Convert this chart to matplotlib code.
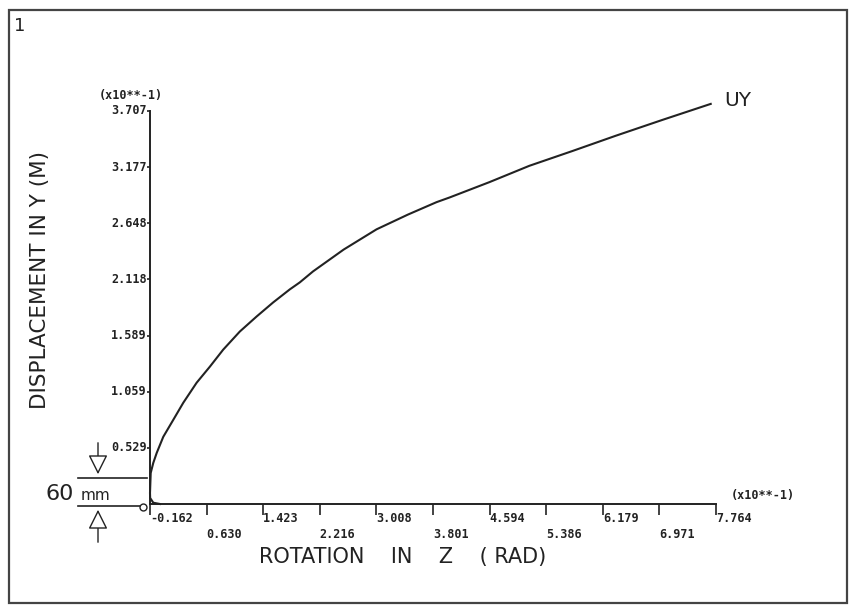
"Displacement vs rotation (ANSYS style plot)"
import matplotlib
matplotlib.use("Agg")
from matplotlib import pyplot as plt
from matplotlib.patches import Rectangle, FancyArrowPatch
from matplotlib.lines import Line2D

# data (units of 10**-1)
rot_z = [-0.022, -0.116, -0.160, -0.162, -0.152, -0.116, -0.068, 0.024, 0.164,
         0.304, 0.491, 0.677, 0.863, 1.096, 1.330, 1.562, 1.795, 1.935, 2.121,
         2.550, 3.011, 3.450, 3.850, 4.032, 4.591, 5.150, 5.751, 6.362, 7.009, 7.690]
uy = [0.000, 0.012, 0.057, 0.104, 0.293, 0.388, 0.482, 0.634, 0.794,
      0.955, 1.144, 1.296, 1.456, 1.627, 1.768, 1.901, 2.024, 2.090, 2.194,
      2.400, 2.591, 2.730, 2.847, 2.891, 3.036, 3.190, 3.329, 3.474, 3.622, 3.774]

xticks = [-0.162, 0.630, 1.423, 2.216, 3.008, 3.801, 4.594, 5.386, 6.179, 6.971, 7.764]
xlabels = ["-0.162", "0.630", "1.423", "2.216", "3.008", "3.801", "4.594",
           "5.386", "6.179", "6.971", "7.764"]
yticks = [0.529, 1.059, 1.589, 2.118, 2.648, 3.177, 3.707]
ylabels = ["0.529", "1.059", "1.589", "2.118", "2.648", "3.177", "3.707"]

W, H = 849, 605
ink = "#222222"
fig = plt.figure(figsize=(W / 100, H / 100), dpi=100)

# outer frame
fig.patches.append(Rectangle((9 / W, 2 / H), 838 / W, 593 / H, transform=fig.transFigure,
                             fill=False, edgecolor="#444444", linewidth=1.6))

ax = fig.add_axes([150 / W, (H - 504) / H, (716 - 150) / W, (504 - 111) / H])
ax.plot(rot_z, uy, color=ink, linewidth=1.5, clip_on=False, solid_joinstyle="round")
ax.set_xlim(-0.162, 7.764)
ax.set_ylim(0, 3.707)
for s in ["top", "right"]:
    ax.spines[s].set_visible(False)
for s in ["left", "bottom"]:
    ax.spines[s].set_linewidth(1.4)
    ax.spines[s].set_color(ink)

mono = dict(family="DejaVu Sans Mono", weight="bold", size=8.5, color=ink)

ax.set_xticks(xticks)
ax.set_xticklabels([])
ax.tick_params(axis="x", direction="out", length=8, width=1.2, color=ink)
for i, (t, lab) in enumerate(zip(xticks, xlabels)):
    yy = -0.037 if i % 2 == 0 else -0.077
    ax.text(t, yy, lab, transform=ax.get_xaxis_transform(), ha="left", va="center", **mono)

ax.set_yticks(yticks)
ax.set_yticklabels([])
ax.tick_params(axis="y", direction="out", length=2, width=1.2, color=ink)
for t, lab in zip(yticks, ylabels):
    ax.text(-0.006, t, lab, transform=ax.get_yaxis_transform(), ha="right", va="center", **mono)

# multipliers
fig.text(131 / W, (H - 95) / H, "(x10**-1)", ha="center", va="center", **mono)
fig.text(763 / W, (H - 496) / H, "(x10**-1)", ha="center", va="center", **mono)

# axis titles
fig.text(40 / W, (H - 280) / H, "DISPLACEMENT IN Y (M)", rotation=90, ha="center",
         va="center", fontsize=15.5, color=ink, family="DejaVu Sans")
fig.text(403 / W, (H - 557) / H, "ROTATION    IN    Z    ( RAD)", ha="center", va="center",
         fontsize=15, color=ink, family="DejaVu Sans")

# curve label and panel number
fig.text(724 / W, (H - 100) / H, "UY", ha="left", va="center", fontsize=14.5, color=ink)
fig.text(14 / W, (H - 26) / H, "1", ha="left", va="center", fontsize=13, color=ink)

# 60 mm dimension marker
fig.lines.append(Line2D([78 / W, 147 / W], [(H - 478) / H] * 2, transform=fig.transFigure,
                        color=ink, linewidth=1.2))
fig.lines.append(Line2D([78 / W, 140 / W], [(H - 506) / H] * 2, transform=fig.transFigure,
                        color=ink, linewidth=1.2))
fig.lines.append(Line2D([143 / W], [(H - 507) / H], transform=fig.transFigure, marker="o",
                        markersize=5, markerfacecolor="white", markeredgecolor=ink))
for y0, y1 in [(440, 477), (545, 507)]:
    fig.patches.append(FancyArrowPatch((98 / W, (H - y0) / H), (98 / W, (H - y1) / H),
                                       transform=fig.transFigure,
                                       arrowstyle="-|>,head_length=8,head_width=4",
                                       edgecolor=ink, facecolor="white", linewidth=1.0,
                                       mutation_scale=1.5))
fig.text(60 / W, (H - 494) / H, "60", ha="center", va="center", fontsize=16, color=ink)
fig.text(95 / W, (H - 495) / H, "mm", ha="center", va="center", fontsize=11, color=ink)

fig.savefig("out.png", dpi=100)
